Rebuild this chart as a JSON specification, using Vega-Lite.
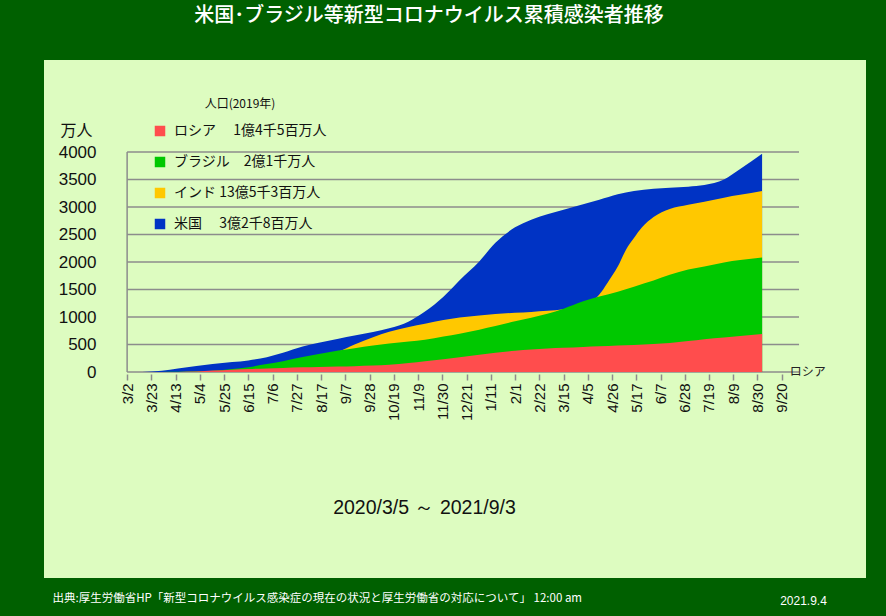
{
  "$schema": "https://vega.github.io/schema/vega-lite/v6.json",
  "width": 822,
  "height": 518,
  "autosize": {"type": "none"},
  "padding": {"left": 44, "top": 60, "right": 20, "bottom": 38},
  "background": "#006000",
  "config": {"view": {"fill": "#ddfcc0", "stroke": null}, "font": "Liberation Sans"},
  "title": {"text": "米国･ブラジル等新型コロナウイルス累積感染者推移", "color": "white", "font": "Noto Sans CJK JP", "fontSize": 20, "fontWeight": 500, "anchor": "middle", "frame": "group", "baseline": "bottom", "offset": 14, "dx": -26},
  "datasets": {
    "grid": [{"g": 0}, {"g": 500}, {"g": 1000}, {"g": 1500}, {"g": 2000}, {"g": 2500}, {"g": 3000}, {"g": 3500}, {"g": 4000}],
    "cases": [
      {"date": "2020-03-05", "country": "米国", "cases": 0},
      {"date": "2020-03-15", "country": "米国", "cases": 0.3},
      {"date": "2020-04-01", "country": "米国", "cases": 21},
      {"date": "2020-04-15", "country": "米国", "cases": 64},
      {"date": "2020-05-01", "country": "米国", "cases": 110},
      {"date": "2020-05-15", "country": "米国", "cases": 146},
      {"date": "2020-06-01", "country": "米国", "cases": 181},
      {"date": "2020-06-15", "country": "米国", "cases": 211},
      {"date": "2020-07-01", "country": "米国", "cases": 269},
      {"date": "2020-07-15", "country": "米国", "cases": 350},
      {"date": "2020-08-01", "country": "米国", "cases": 462},
      {"date": "2020-08-15", "country": "米国", "cases": 531},
      {"date": "2020-09-01", "country": "米国", "cases": 605},
      {"date": "2020-09-15", "country": "米国", "cases": 663},
      {"date": "2020-10-01", "country": "米国", "cases": 728},
      {"date": "2020-10-15", "country": "米国", "cases": 795},
      {"date": "2020-11-01", "country": "米国", "cases": 920},
      {"date": "2020-11-15", "country": "米国", "cases": 1100},
      {"date": "2020-12-01", "country": "米国", "cases": 1370},
      {"date": "2020-12-15", "country": "米国", "cases": 1670},
      {"date": "2021-01-01", "country": "米国", "cases": 2010},
      {"date": "2021-01-15", "country": "米国", "cases": 2350},
      {"date": "2021-02-01", "country": "米国", "cases": 2630},
      {"date": "2021-02-15", "country": "米国", "cases": 2770},
      {"date": "2021-03-01", "country": "米国", "cases": 2870},
      {"date": "2021-03-15", "country": "米国", "cases": 2950},
      {"date": "2021-04-01", "country": "米国", "cases": 3050},
      {"date": "2021-04-15", "country": "米国", "cases": 3130},
      {"date": "2021-05-01", "country": "米国", "cases": 3230},
      {"date": "2021-05-15", "country": "米国", "cases": 3290},
      {"date": "2021-06-01", "country": "米国", "cases": 3330},
      {"date": "2021-06-15", "country": "米国", "cases": 3350},
      {"date": "2021-07-01", "country": "米国", "cases": 3370},
      {"date": "2021-07-15", "country": "米国", "cases": 3400},
      {"date": "2021-08-01", "country": "米国", "cases": 3500},
      {"date": "2021-08-15", "country": "米国", "cases": 3690},
      {"date": "2021-09-03", "country": "米国", "cases": 3970},
      {"date": "2020-03-05", "country": "インド", "cases": 0},
      {"date": "2020-04-01", "country": "インド", "cases": 0.2},
      {"date": "2020-04-15", "country": "インド", "cases": 1.2},
      {"date": "2020-05-01", "country": "インド", "cases": 3.5},
      {"date": "2020-05-15", "country": "インド", "cases": 8.2},
      {"date": "2020-06-01", "country": "インド", "cases": 19},
      {"date": "2020-06-15", "country": "インド", "cases": 33},
      {"date": "2020-07-01", "country": "インド", "cases": 59},
      {"date": "2020-07-15", "country": "インド", "cases": 94},
      {"date": "2020-08-01", "country": "インド", "cases": 170},
      {"date": "2020-08-15", "country": "インド", "cases": 253},
      {"date": "2020-09-01", "country": "インド", "cases": 369},
      {"date": "2020-09-15", "country": "インド", "cases": 502},
      {"date": "2020-10-01", "country": "インド", "cases": 631},
      {"date": "2020-10-15", "country": "インド", "cases": 731},
      {"date": "2020-11-01", "country": "インド", "cases": 818},
      {"date": "2020-11-15", "country": "インド", "cases": 878},
      {"date": "2020-12-01", "country": "インド", "cases": 946},
      {"date": "2020-12-15", "country": "インド", "cases": 991},
      {"date": "2021-01-01", "country": "インド", "cases": 1029},
      {"date": "2021-01-15", "country": "インド", "cases": 1053},
      {"date": "2021-02-01", "country": "インド", "cases": 1077},
      {"date": "2021-02-15", "country": "インド", "cases": 1092},
      {"date": "2021-03-01", "country": "インド", "cases": 1112},
      {"date": "2021-03-15", "country": "インド", "cases": 1141},
      {"date": "2021-04-01", "country": "インド", "cases": 1222},
      {"date": "2021-04-15", "country": "インド", "cases": 1408},
      {"date": "2021-04-22", "country": "インド", "cases": 1620},
      {"date": "2021-05-01", "country": "インド", "cases": 1917},
      {"date": "2021-05-08", "country": "インド", "cases": 2220},
      {"date": "2021-05-15", "country": "インド", "cases": 2435},
      {"date": "2021-05-22", "country": "インド", "cases": 2630},
      {"date": "2021-06-01", "country": "インド", "cases": 2817},
      {"date": "2021-06-15", "country": "インド", "cases": 2963},
      {"date": "2021-07-01", "country": "インド", "cases": 3041},
      {"date": "2021-07-15", "country": "インド", "cases": 3094},
      {"date": "2021-08-01", "country": "インド", "cases": 3170},
      {"date": "2021-08-15", "country": "インド", "cases": 3221},
      {"date": "2021-09-03", "country": "インド", "cases": 3290},
      {"date": "2020-03-05", "country": "ブラジル", "cases": 0},
      {"date": "2020-04-01", "country": "ブラジル", "cases": 0.7},
      {"date": "2020-04-15", "country": "ブラジル", "cases": 2.8},
      {"date": "2020-05-01", "country": "ブラジル", "cases": 9.2},
      {"date": "2020-05-15", "country": "ブラジル", "cases": 22},
      {"date": "2020-06-01", "country": "ブラジル", "cases": 53},
      {"date": "2020-06-15", "country": "ブラジル", "cases": 89},
      {"date": "2020-07-01", "country": "ブラジル", "cases": 145},
      {"date": "2020-07-15", "country": "ブラジル", "cases": 197},
      {"date": "2020-08-01", "country": "ブラジル", "cases": 273},
      {"date": "2020-08-15", "country": "ブラジル", "cases": 329},
      {"date": "2020-09-01", "country": "ブラジル", "cases": 391},
      {"date": "2020-09-15", "country": "ブラジル", "cases": 434},
      {"date": "2020-10-01", "country": "ブラジル", "cases": 481},
      {"date": "2020-10-15", "country": "ブラジル", "cases": 517},
      {"date": "2020-11-01", "country": "ブラジル", "cases": 555},
      {"date": "2020-11-15", "country": "ブラジル", "cases": 585},
      {"date": "2020-12-01", "country": "ブラジル", "cases": 644},
      {"date": "2020-12-15", "country": "ブラジル", "cases": 696},
      {"date": "2021-01-01", "country": "ブラジル", "cases": 770},
      {"date": "2021-01-15", "country": "ブラジル", "cases": 836},
      {"date": "2021-02-01", "country": "ブラジル", "cases": 922},
      {"date": "2021-02-15", "country": "ブラジル", "cases": 987},
      {"date": "2021-03-01", "country": "ブラジル", "cases": 1059},
      {"date": "2021-03-15", "country": "ブラジル", "cases": 1152},
      {"date": "2021-04-01", "country": "ブラジル", "cases": 1287},
      {"date": "2021-04-15", "country": "ブラジル", "cases": 1374},
      {"date": "2021-05-01", "country": "ブラジル", "cases": 1461},
      {"date": "2021-05-15", "country": "ブラジル", "cases": 1552},
      {"date": "2021-06-01", "country": "ブラジル", "cases": 1663},
      {"date": "2021-06-15", "country": "ブラジル", "cases": 1767},
      {"date": "2021-07-01", "country": "ブラジル", "cases": 1862},
      {"date": "2021-07-15", "country": "ブラジル", "cases": 1920},
      {"date": "2021-08-01", "country": "ブラジル", "cases": 1993},
      {"date": "2021-08-15", "country": "ブラジル", "cases": 2035},
      {"date": "2021-09-03", "country": "ブラジル", "cases": 2080},
      {"date": "2020-03-05", "country": "ロシア", "cases": 0},
      {"date": "2020-04-01", "country": "ロシア", "cases": 0.3},
      {"date": "2020-04-15", "country": "ロシア", "cases": 2.5},
      {"date": "2020-05-01", "country": "ロシア", "cases": 11},
      {"date": "2020-05-15", "country": "ロシア", "cases": 26},
      {"date": "2020-06-01", "country": "ロシア", "cases": 41},
      {"date": "2020-06-15", "country": "ロシア", "cases": 54},
      {"date": "2020-07-01", "country": "ロシア", "cases": 65},
      {"date": "2020-07-15", "country": "ロシア", "cases": 74},
      {"date": "2020-08-01", "country": "ロシア", "cases": 85},
      {"date": "2020-08-15", "country": "ロシア", "cases": 92},
      {"date": "2020-09-01", "country": "ロシア", "cases": 100},
      {"date": "2020-09-15", "country": "ロシア", "cases": 107},
      {"date": "2020-10-01", "country": "ロシア", "cases": 118},
      {"date": "2020-10-15", "country": "ロシア", "cases": 134},
      {"date": "2020-11-01", "country": "ロシア", "cases": 164},
      {"date": "2020-11-15", "country": "ロシア", "cases": 195},
      {"date": "2020-12-01", "country": "ロシア", "cases": 232},
      {"date": "2020-12-15", "country": "ロシア", "cases": 270},
      {"date": "2021-01-01", "country": "ロシア", "cases": 316},
      {"date": "2021-01-15", "country": "ロシア", "cases": 352},
      {"date": "2021-02-01", "country": "ロシア", "cases": 386},
      {"date": "2021-02-15", "country": "ロシア", "cases": 408},
      {"date": "2021-03-01", "country": "ロシア", "cases": 426},
      {"date": "2021-03-15", "country": "ロシア", "cases": 440},
      {"date": "2021-04-01", "country": "ロシア", "cases": 455},
      {"date": "2021-04-15", "country": "ロシア", "cases": 467},
      {"date": "2021-05-01", "country": "ロシア", "cases": 481},
      {"date": "2021-05-15", "country": "ロシア", "cases": 493},
      {"date": "2021-06-01", "country": "ロシア", "cases": 508},
      {"date": "2021-06-15", "country": "ロシア", "cases": 527},
      {"date": "2021-07-01", "country": "ロシア", "cases": 563},
      {"date": "2021-07-15", "country": "ロシア", "cases": 596},
      {"date": "2021-08-01", "country": "ロシア", "cases": 627},
      {"date": "2021-08-15", "country": "ロシア", "cases": 653},
      {"date": "2021-09-03", "country": "ロシア", "cases": 690}
    ]
  },
  "layer": [
    {
      "data": {"name": "grid"},
      "mark": {"type": "rule", "color": "#8c8c8c", "strokeWidth": 1.5},
      "encoding": {
        "x": {"datum": {"year": 2020, "month": 3, "date": 2, "utc": true}, "type": "temporal",
          "scale": {"type": "utc", "domain": [{"year": 2019, "month": 12, "date": 21, "utc": true}, {"year": 2021, "month": 12, "date": 2, "utc": true}]},
          "axis": {"orient": "top", "labels": false, "ticks": false, "domain": false, "grid": false,
            "title": "出典:厚生労働省HP「新型コロナウイルス感染症の現在の状況と厚生労働省の対応について」 12:00 am",
            "titleX": 8, "titleY": 538, "titleAlign": "left", "titleBaseline": "middle", "titleAngle": 0,
            "titleColor": "white", "titleFont": "Noto Sans CJK JP", "titleFontSize": 11.5, "titleFontWeight": "normal"}},
        "x2": {"datum": {"year": 2021, "month": 10, "date": 5, "utc": true}},
        "y": {"field": "g", "type": "quantitative",
          "scale": {"domain": [-3745, 5673], "nice": false, "zero": false},
          "axis": {"orient": "right", "labels": false, "ticks": false, "domain": false, "grid": false,
            "title": "2021.9.4", "titleX": -63, "titleY": 540, "titleAlign": "center", "titleBaseline": "middle", "titleAngle": 0,
            "titleColor": "white", "titleFont": "Liberation Sans", "titleFontSize": 12, "titleFontWeight": "normal"}}
      }
    },
    {
      "data": {"values": [{}]},
      "mark": {"type": "rule", "color": "#8c8c8c", "strokeWidth": 1.5},
      "encoding": {
        "x": {"datum": {"year": 2020, "month": 3, "date": 2, "utc": true}, "type": "temporal", "axis": null},
        "y": {"datum": 0, "type": "quantitative", "axis": null},
        "y2": {"datum": 4000}
      }
    },
    {
      "data": {"name": "cases"},
      "transform": [{"filter": "datum.country == '米国'"}],
      "mark": {"type": "area", "interpolate": "monotone", "opacity": 1},
      "encoding": {
        "x": {"field": "date", "type": "temporal",
          "scale": {"type": "utc", "domain": [{"year": 2019, "month": 12, "date": 21, "utc": true}, {"year": 2021, "month": 12, "date": 2, "utc": true}]},
          "axis": {"orient": "bottom", "offset": -204,
            "values": [
              {"year": 2020, "month": 3, "date": 2, "utc": true}, {"year": 2020, "month": 3, "date": 23, "utc": true},
              {"year": 2020, "month": 4, "date": 13, "utc": true}, {"year": 2020, "month": 5, "date": 4, "utc": true},
              {"year": 2020, "month": 5, "date": 25, "utc": true}, {"year": 2020, "month": 6, "date": 15, "utc": true},
              {"year": 2020, "month": 7, "date": 6, "utc": true}, {"year": 2020, "month": 7, "date": 27, "utc": true},
              {"year": 2020, "month": 8, "date": 17, "utc": true}, {"year": 2020, "month": 9, "date": 7, "utc": true},
              {"year": 2020, "month": 9, "date": 28, "utc": true}, {"year": 2020, "month": 10, "date": 19, "utc": true},
              {"year": 2020, "month": 11, "date": 9, "utc": true}, {"year": 2020, "month": 11, "date": 30, "utc": true},
              {"year": 2020, "month": 12, "date": 21, "utc": true}, {"year": 2021, "month": 1, "date": 11, "utc": true},
              {"year": 2021, "month": 2, "date": 1, "utc": true}, {"year": 2021, "month": 2, "date": 22, "utc": true},
              {"year": 2021, "month": 3, "date": 15, "utc": true}, {"year": 2021, "month": 4, "date": 5, "utc": true},
              {"year": 2021, "month": 4, "date": 26, "utc": true}, {"year": 2021, "month": 5, "date": 17, "utc": true},
              {"year": 2021, "month": 6, "date": 7, "utc": true}, {"year": 2021, "month": 6, "date": 28, "utc": true},
              {"year": 2021, "month": 7, "date": 19, "utc": true}, {"year": 2021, "month": 8, "date": 9, "utc": true},
              {"year": 2021, "month": 8, "date": 30, "utc": true}, {"year": 2021, "month": 9, "date": 20, "utc": true}
            ],
            "labelExpr": "utcFormat(datum.value, '%-m/%-d')",
            "labelAngle": -90, "labelAlign": "right", "labelBaseline": "middle", "labelFontSize": 15, "labelColor": "#111",
            "labelPadding": 3, "labelOverlap": false, "labelFlush": false, "labelBound": false,
            "ticks": true, "tickColor": "#8c8c8c", "tickSize": 6, "tickWidth": 1.5, "domain": false, "grid": false,
            "title": "2020/3/5 ～ 2021/9/3", "titleX": 380, "titleY": 133, "titleAlign": "center", "titleBaseline": "middle",
            "titleFontSize": 19.5, "titleFontWeight": "normal", "titleColor": "#111", "titleFont": "Liberation Sans"}},
        "y": {"field": "cases", "type": "quantitative", "stack": null,
          "scale": {"domain": [-3745, 5673], "nice": false, "zero": false},
          "axis": {"orient": "left", "offset": -54, "values": [0, 500, 1000, 1500, 2000, 2500, 3000, 3500, 4000], "format": "d",
            "grid": false, "ticks": false, "domain": false, "labelFontSize": 17, "labelPadding": 2, "labelColor": "#111",
            "title": "万人", "titleAngle": 0, "titleX": -22, "titleY": 70, "titleAlign": "center", "titleBaseline": "middle",
            "titleFontSize": 16, "titleFont": "Noto Sans CJK JP", "titleFontWeight": "normal", "titleColor": "#111"}},
        "y2": {"datum": 0},
        "color": {"field": "country", "type": "nominal",
          "scale": {"domain": ["ロシア", "ブラジル", "インド", "米国"], "range": ["#ff4d4d", "#00c800", "#ffc800", "#0033c4"]},
          "legend": {"orient": "none", "legendX": 109, "legendY": 39, "padding": 0,
            "title": "人口(2019年)", "titleAnchor": "middle", "titleFont": "Noto Sans CJK JP", "titleFontSize": 12, "titleFontWeight": "normal", "titleColor": "#111", "titlePadding": 13,
            "symbolType": "square", "symbolSize": 110, "symbolStrokeWidth": 0, "symbolOpacity": 1,
            "labelFont": "Noto Sans CJK JP", "labelFontSize": 14, "labelColor": "#111", "labelOffset": 7, "rowPadding": 17, "labelLimit": 400,
            "labelExpr": "datum.label == 'ロシア' ? 'ロシア　 1億4千5百万人' : datum.label == 'ブラジル' ? 'ブラジル　2億1千万人' : datum.label == 'インド' ? 'インド 13億5千3百万人' : '米国　 3億2千8百万人'"}}
      }
    },
    {
      "data": {"name": "cases"},
      "transform": [{"filter": "datum.country == 'インド'"}],
      "mark": {"type": "area", "interpolate": "monotone", "opacity": 1},
      "encoding": {
        "x": {"field": "date", "type": "temporal", "axis": null},
        "y": {"field": "cases", "type": "quantitative", "stack": null, "axis": null},
        "y2": {"datum": 0},
        "color": {"field": "country", "type": "nominal"}
      }
    },
    {
      "data": {"name": "cases"},
      "transform": [{"filter": "datum.country == 'ブラジル'"}],
      "mark": {"type": "area", "interpolate": "monotone", "opacity": 1},
      "encoding": {
        "x": {"field": "date", "type": "temporal", "axis": null},
        "y": {"field": "cases", "type": "quantitative", "stack": null, "axis": null},
        "y2": {"datum": 0},
        "color": {"field": "country", "type": "nominal"}
      }
    },
    {
      "data": {"name": "cases"},
      "transform": [{"filter": "datum.country == 'ロシア'"}],
      "mark": {"type": "area", "interpolate": "monotone", "opacity": 1},
      "encoding": {
        "x": {"field": "date", "type": "temporal", "axis": null},
        "y": {"field": "cases", "type": "quantitative", "stack": null, "axis": null},
        "y2": {"datum": 0},
        "color": {"field": "country", "type": "nominal"}
      }
    },
    {
      "data": {"values": [{}]},
      "mark": {"type": "text", "text": "ロシア", "align": "left", "baseline": "middle", "dx": 8, "fontSize": 12, "font": "Noto Sans CJK JP", "color": "#222"},
      "encoding": {
        "x": {"datum": {"year": 2021, "month": 9, "date": 20, "utc": true}, "type": "temporal", "axis": null},
        "y": {"datum": 0, "type": "quantitative", "axis": null}
      }
    }
  ],
  "resolve": {"axis": {"x": "independent", "y": "independent"}}
}
